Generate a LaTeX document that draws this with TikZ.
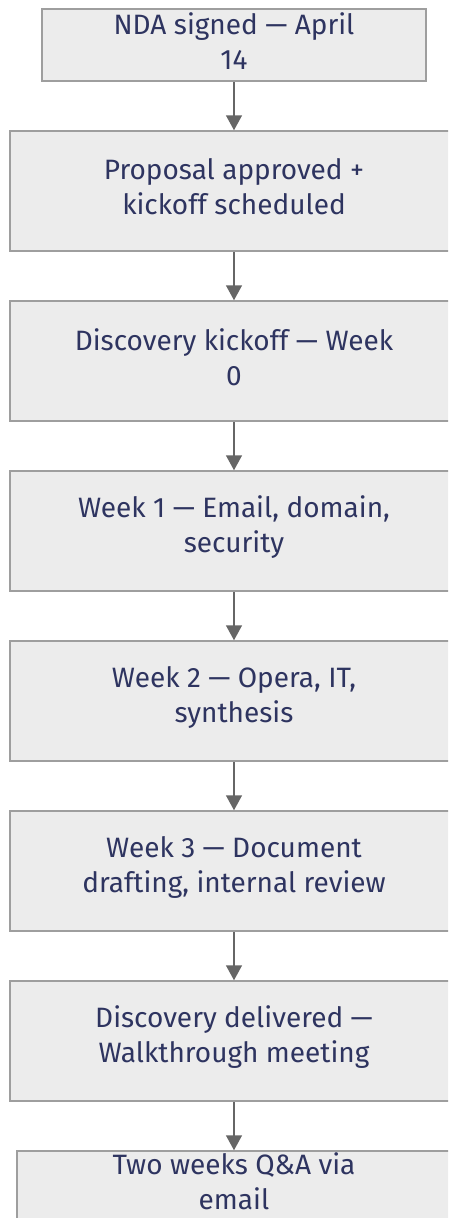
\documentclass[tikz,border=0pt]{standalone}
\usepackage{fontspec}
\setmainfont{Fira Sans}
\usetikzlibrary{arrows.meta}
\definecolor{boxfill}{HTML}{ECECEC}
\definecolor{boxline}{HTML}{9E9E9E}
\definecolor{txt}{HTML}{2E3460}
\definecolor{arr}{HTML}{666666}
\tikzset{
  stepbox/.style={draw=boxline, fill=boxfill, line width=1.5pt, inner sep=0pt},
  steptext/.style={text=txt, align=center, inner sep=0pt, yshift=4pt,
    font=\fontsize{28}{35}\selectfont},
  flow/.style={draw=arr, line width=1.5pt, -{Triangle[length=15pt,width=16pt]}}
}
\begin{document}
\begin{tikzpicture}[x=1pt,y=-1pt]
\useasboundingbox (0,0) rectangle (448,1218);
\clip (0,0) rectangle (448,1218);
\fill[white] (0,0) rectangle (448,1218);
\node[stepbox, minimum width=384pt, minimum height=72pt, label={[steptext]center:NDA signed — April\\14}] (n1) at (234,45) {};
\node[stepbox, minimum width=448pt, minimum height=120pt, label={[steptext]center:Proposal approved +\\kickoff scheduled}] (n2) at (234,191) {};
\node[stepbox, minimum width=448pt, minimum height=120pt, label={[steptext]center:Discovery kickoff — Week\\0}] (n3) at (234,361) {};
\node[stepbox, minimum width=448pt, minimum height=120pt, label={[steptext]center:Week 1 — Email, domain,\\security}] (n4) at (234,531) {};
\node[stepbox, minimum width=448pt, minimum height=120pt, label={[steptext]center:Week 2 — Opera, IT,\\synthesis}] (n5) at (234,701) {};
\node[stepbox, minimum width=448pt, minimum height=120pt, label={[steptext]center:Week 3 — Document\\drafting, internal review}] (n6) at (234,871) {};
\node[stepbox, minimum width=448pt, minimum height=120pt, label={[steptext]center:Discovery delivered —\\Walkthrough meeting}] (n7) at (234,1041) {};
\node[stepbox, minimum width=434pt, minimum height=69pt, label={[steptext]center:Two weeks Q\&A via\\email}] (n8) at (234,1185.5) {};
\draw[flow] (n1) -- (n2);
\draw[flow] (n2) -- (n3);
\draw[flow] (n3) -- (n4);
\draw[flow] (n4) -- (n5);
\draw[flow] (n5) -- (n6);
\draw[flow] (n6) -- (n7);
\draw[flow] (n7) -- (n8);
\end{tikzpicture}
\end{document}
